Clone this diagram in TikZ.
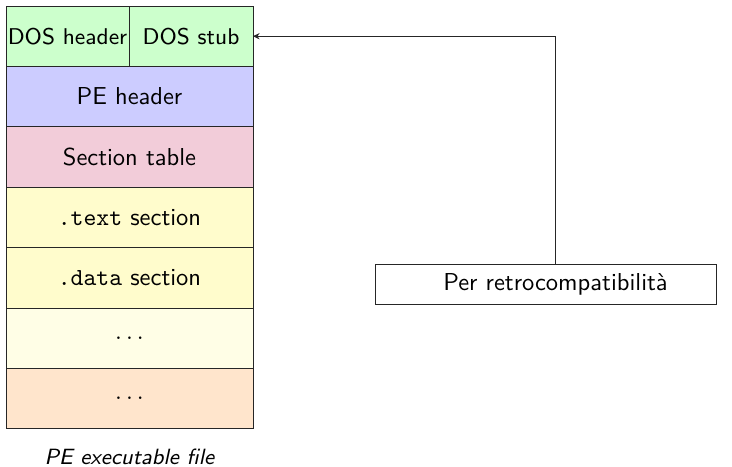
\documentclass[tikz,border=0pt]{standalone}
\usetikzlibrary{arrows.meta}
\newcommand\pxu{0.408pt}
\tikzset{
  layer/.style={draw=black!85, rectangle, inner sep=0pt, outer sep=0pt,
    anchor=north west, minimum height={60.4*\pxu}, font=\sffamily},
  fullrow/.style={layer, minimum width={247*\pxu}},
  dospart/.style={layer, fill=green!20, font=\sffamily\fontsize{9.3pt}{11pt}\selectfont},
  note/.style={draw=black!85, rectangle, inner sep=0pt, outer sep=0pt,
    minimum width={341*\pxu}, minimum height={40*\pxu}},
  link/.style={draw=black!85, -{Stealth[length=2.7pt,width=2.6pt]}}
}
\begin{document}
\begin{tikzpicture}[x=\pxu, y=-\pxu]
  \useasboundingbox (0,0) rectangle (732,466);
  % file layout, top to bottom
  \node[dospart, minimum width={123*\pxu}] (doshdr) at (6,6) {DOS header};
  \node[dospart, minimum width={124*\pxu}] (stub) at (129,6) {DOS stub};
  \node[fullrow, fill=blue!20] (pehdr) at (6,66.4) {PE header};
  \node[fullrow, fill=purple!20] (sectab) at (6,126.8) {Section table};
  \node[fullrow, fill=yellow!20] (textsec) at (6,187.2) {\texttt{.text} section};
  \node[fullrow, fill=yellow!20] (datasec) at (6,247.6) {\texttt{.data} section};
  \node[fullrow, fill=yellow!10] (more1) at (6,308) {$\ldots$};
  \node[fullrow, fill=orange!20] (more2) at (6,368.4) {$\ldots$};
  \node[font=\sffamily\itshape\small] (caption) at (129.5,457) {PE executable file};
  % side note pointing at the stub
  \node[note] (per) at (545.5,284) {};
  \node[font=\sffamily] (perlbl) at (555.5,284) {Per retrocompatibilità};
  \draw[link] ([xshift={9.5*\pxu}]per.north) |- (stub.east);
\end{tikzpicture}
\end{document}
